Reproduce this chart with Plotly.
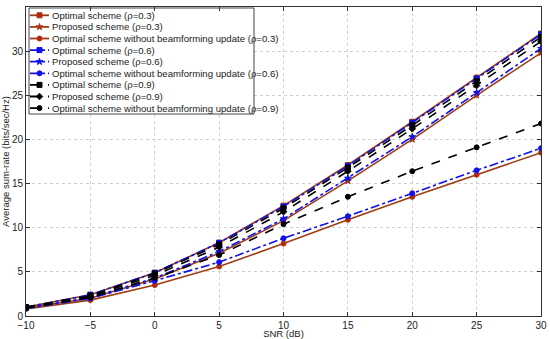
import plotly.graph_objects as go

snr = [-10, -5, 0, 5, 10, 15, 20, 25, 30]
y_ticks = [0, 5, 10, 15, 20, 25, 30, 35]
y_ticktext = ["0", "5", "10", "15", "20", "25", "30", ""]

opt_03 = [1.0, 2.4, 4.9, 8.3, 12.5, 17.1, 22.0, 27.0, 32.0]
prop_03 = [0.9, 2.0, 4.2, 7.1, 10.8, 15.3, 20.0, 25.0, 29.8]
nobf_03 = [0.8, 1.8, 3.5, 5.6, 8.2, 10.9, 13.5, 16.0, 18.5]

opt_06 = [1.0, 2.4, 4.9, 8.3, 12.4, 17.0, 21.9, 26.9, 31.9]
prop_06 = [0.9, 2.1, 4.3, 7.3, 11.0, 15.6, 20.3, 25.3, 30.3]
nobf_06 = [0.85, 2.0, 4.0, 6.1, 8.8, 11.3, 13.9, 16.5, 19.0]

opt_09 = [1.0, 2.3, 4.8, 8.1, 12.2, 16.8, 21.6, 26.6, 31.6]
prop_09 = [0.95, 2.2, 4.6, 7.8, 11.8, 16.4, 21.2, 26.1, 31.1]
nobf_09 = [0.9, 2.1, 4.3, 6.9, 10.4, 13.5, 16.4, 19.1, 21.8]

names = [
    "Optimal scheme (ρ=0.3)",
    "Proposed scheme (ρ=0.3)",
    "Optimal scheme without beamforming update (ρ=0.3)",
    "Optimal scheme (ρ=0.6)",
    "Proposed scheme (ρ=0.6)",
    "Optimal scheme without beamforming update (ρ=0.6)",
    "Optimal scheme (ρ=0.9)",
    "Proposed scheme (ρ=0.9)",
    "Optimal scheme without beamforming update (ρ=0.9)",
]
series = [opt_03, prop_03, nobf_03, opt_06, prop_06, nobf_06, opt_09, prop_09, nobf_09]

brown = "#9E3D12"
blue = "#1010E8"
black = "#000000"
styles = [
    (brown, "solid", "square", "#C02010"),
    (brown, "solid", "star", "#D02020"),
    (brown, "solid", "circle", "#C02010"),
    (blue, "dashdot", "square", blue),
    (blue, "dashdot", "star", blue),
    (blue, "dashdot", "circle", blue),
    (black, "dash", "square", black),
    (black, "dash", "diamond", black),
    (black, "dash", "circle", black),
]

# plot area geometry (pixels)
W, H = 550, 339
ML, MR, MT, MB = 26, 9, 7, 23
PW, PH = W - ML - MR, H - MT - MB

fig = go.Figure()
for name, ys, (lc, dash, sym, mc) in zip(names, series, styles):
    fig.add_trace(go.Scatter(
        x=snr, y=ys, name=name, mode="lines+markers", showlegend=False,
        line=dict(color=lc, width=1.6, dash=dash),
        marker=dict(symbol=sym, size=5, color=mc, line=dict(color=lc, width=1)),
    ))

# ---- compact custom legend (drawn in a pixel-space overlay) ----
bx0, bx1, by0, by1 = 3, 228, 1, 107
row0, rowgap = 8.3, 11.6
fig.add_trace(go.Scatter(
    x=[bx0, bx1, bx1, bx0, bx0], y=[by0, by0, by1, by1, by0],
    xaxis="x2", yaxis="y2", mode="lines", fill="toself",
    fillcolor="white", line=dict(color="#444444", width=1),
    showlegend=False, hoverinfo="skip",
))
annotations = []
for i, (name, (lc, dash, sym, mc)) in enumerate(zip(names, styles)):
    ry = row0 + rowgap * i
    fig.add_trace(go.Scatter(
        x=[bx0 + 1, bx0 + 20], y=[ry, ry], xaxis="x2", yaxis="y2",
        mode="lines", line=dict(color=lc, width=1.8, dash=dash),
        showlegend=False, hoverinfo="skip",
    ))
    fig.add_trace(go.Scatter(
        x=[bx0 + 10.5], y=[ry], xaxis="x2", yaxis="y2", mode="markers",
        marker=dict(symbol=sym, size=5, color=mc, line=dict(color=lc, width=1)),
        showlegend=False, hoverinfo="skip",
    ))
    annotations.append(dict(
        x=bx0 + 21, y=ry, xref="x2", yref="y2", text=name, showarrow=False,
        xanchor="left", yanchor="middle", font=dict(size=9.6, color="#222222"),
    ))

# top y tick label, drawn as an unclipped text trace in the pixel overlay
fig.add_trace(go.Scatter(
    x=[-3], y=[0], xaxis="x2", yaxis="y2", mode="text",
    text=[str(y_ticks[-1])], textposition="middle left",
    textfont=dict(size=10, color="#222222",
                  family="Liberation Sans, Arial, sans-serif"),
    cliponaxis=False, showlegend=False, hoverinfo="skip",
))

axis_common = dict(
    showgrid=True, gridcolor="#cfcfcf", griddash="dot", gridwidth=1,
    showline=True, linecolor="#333333", linewidth=1, mirror="ticks",
    ticks="inside", ticklen=4, tickcolor="#333333",
    zeroline=False, tickfont=dict(size=10, color="#222222"), automargin=False,
)

fig.update_layout(
    width=W, height=H,
    margin=dict(l=ML, r=MR, t=MT, b=MB),
    paper_bgcolor="white", plot_bgcolor="white",
    font=dict(family="Liberation Sans, Arial, sans-serif", color="#222222"),
    xaxis=dict(range=[-10, 30], tickmode="array", tickvals=snr,
               title=dict(text="SNR (dB)", font=dict(size=9.5)),
               **axis_common),
    yaxis=dict(range=[0, 35], tickmode="array", tickvals=y_ticks, ticktext=y_ticktext,
               title=dict(text="Average sum-rate (bits/sec/Hz)", font=dict(size=9.5), standoff=2),
               **axis_common),
    xaxis2=dict(overlaying="x", range=[0, PW], visible=False, fixedrange=True),
    yaxis2=dict(overlaying="y", range=[PH, 0], visible=False, fixedrange=True),
    annotations=annotations,
    showlegend=False,
)

fig.write_html(
    "out.html",
    config={"displayModeBar": False},
    post_script="document.body.style.margin='0px';document.body.style.overflow='hidden';",
)
